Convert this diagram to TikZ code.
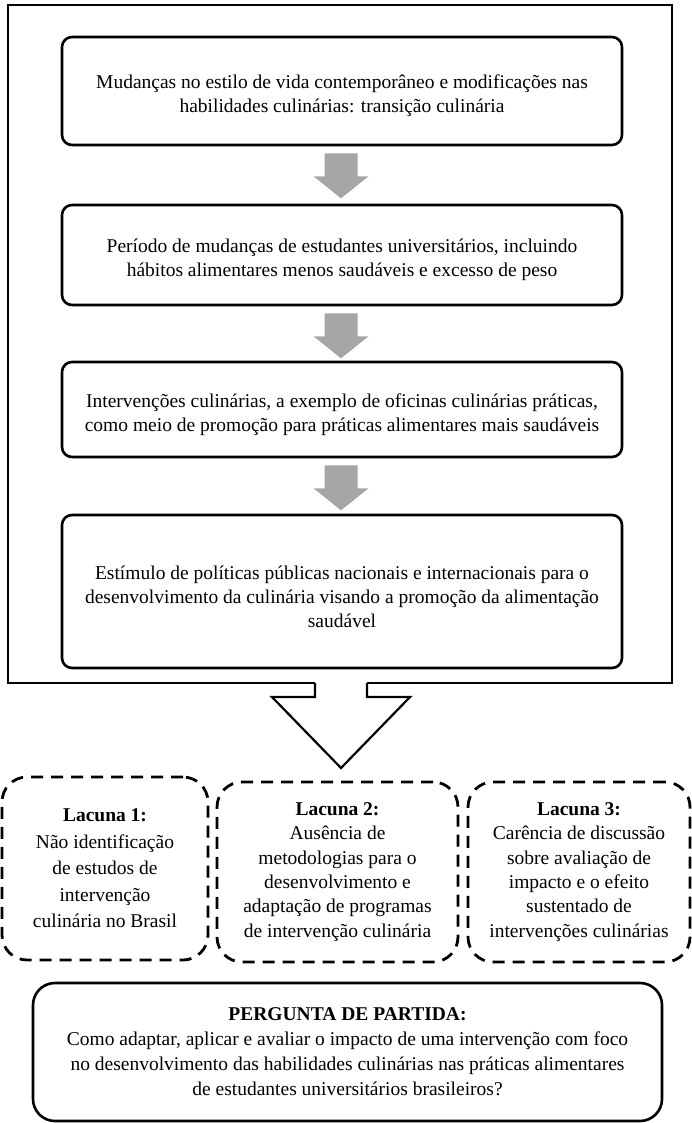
\documentclass[tikz,border=0pt]{standalone}
\usepackage{fontspec}
\setmainfont{Liberation Serif}
\usetikzlibrary{calc}
\definecolor{arrowgray}{HTML}{A6A6A6}
\tikzset{
  mainbox/.style={draw, line width=2.6pt, rounded corners=10pt, minimum width=560pt, align=center, inner sep=0pt,
    font=\fontsize{19.5}{24}\selectfont},
  gapbox/.style={draw, line width=2.8pt, dash pattern=on 12pt off 8pt, rounded corners=25pt, align=center, inner sep=0pt,
    font=\fontsize{19.5}{24.3}\selectfont},
  qbox/.style={draw, line width=2.6pt, rounded corners=22pt, align=center, inner sep=0pt,
    font=\fontsize{19.5}{25}\selectfont},
  grayarrow/.pic={\fill[arrowgray] (-16.5,0) -- (16.5,0) -- (16.5,23) -- (27.5,23) -- (0,45) -- (-27.5,23) -- (-16.5,23) -- cycle;}
}
\begin{document}
\begin{tikzpicture}[x=1pt,y=-1pt]
\useasboundingbox (0,0) rectangle (692,1123);
% outer frame with big open arrow
\draw[line width=2.6pt, line join=miter]
  (315,683) -- (8,683) -- (8,5) -- (672,5) -- (672,683) -- (367,683);
\draw[line width=2.2pt, line join=miter]
  (315,683) -- (315,697) -- (272,697) -- (341,768) -- (410,697) -- (367,697) -- (367,683);
% main boxes
\node[mainbox, minimum height=108pt] (b1) at (342,91) {};
\node[mainbox, minimum height=100pt] (b2) at (342,255) {};
\node[mainbox, minimum height=95pt] (b3) at (342,409.5) {};
\node[mainbox, minimum height=153pt] (b4) at (342,591.5) {};
\node[font=\fontsize{19.5}{24}\selectfont, align=center] (t1) at ($(b1.center)+(0,5)$)
  {Mudanças no estilo de vida contemporâneo e modificações nas\\habilidades culinárias: transição culinária};
\node[font=\fontsize{19.5}{24}\selectfont, align=center] (t2) at ($(b2.center)+(0,5)$)
  {Período de mudanças de estudantes universitários, incluindo\\hábitos alimentares menos saudáveis e excesso de peso};
\node[font=\fontsize{19.5}{24}\selectfont, align=center] (t3) at ($(b3.center)+(0,5)$)
  {Intervenções culinárias, a exemplo de oficinas culinárias práticas,\\como meio de promoção para práticas alimentares mais saudáveis};
\node[font=\fontsize{19.5}{24}\selectfont, align=center] (t4) at ($(b4.center)+(0,5)$)
  {Estímulo de políticas públicas nacionais e internacionais para o\\desenvolvimento da culinária visando a promoção da alimentação\\saudável};
% gray arrows
\path (b1.south) ++(-1,7) pic {grayarrow};
\path (b2.south) ++(-1,7) pic {grayarrow};
\path (b3.south) ++(-1,7) pic {grayarrow};
% gap boxes
\node[gapbox, minimum width=206pt, minimum height=183pt, font=\fontsize{19.5}{26.5}\selectfont] (l1) at (105,868.5)
  {\textbf{Lacuna 1:}\\Não identificação\\de estudos de\\intervenção\\culinária no Brasil};
\node[gapbox, minimum width=241pt, minimum height=180pt] (l2) at (337.5,872)
  {\textbf{Lacuna 2:}\\Ausência de\\metodologias para o\\desenvolvimento e\\adaptação de programas\\de intervenção culinária};
\node[gapbox, minimum width=222pt, minimum height=180pt] (l3) at (579,872)
  {\textbf{Lacuna 3:}\\Carência de discussão\\sobre avaliação de\\impacto e o efeito\\sustentado de\\intervenções culinárias};
% question box
\node[qbox, minimum width=629pt, minimum height=138pt] (q) at (347.5,1052)
  {\textbf{PERGUNTA DE PARTIDA:}\\Como adaptar, aplicar e avaliar o impacto de uma intervenção com foco\\no desenvolvimento das habilidades culinárias nas práticas alimentares\\de estudantes universitários brasileiros?};
\end{tikzpicture}
\end{document}
